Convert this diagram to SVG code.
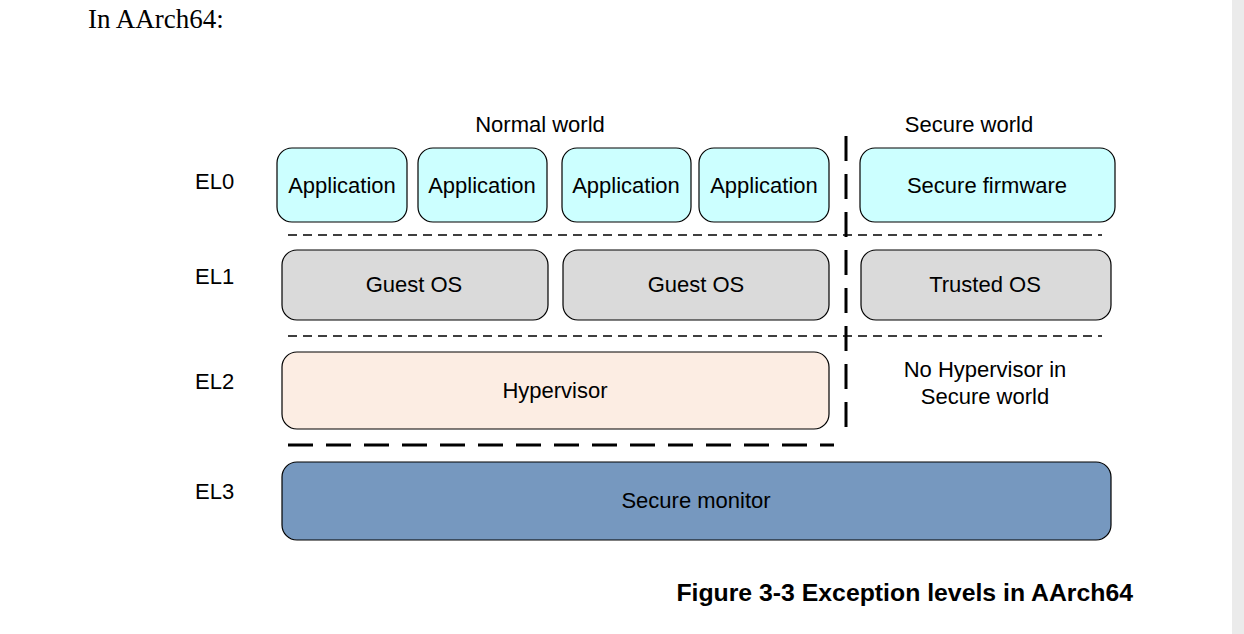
<svg xmlns="http://www.w3.org/2000/svg" width="1244" height="634" viewBox="0 0 1244 634">
<style>
text{font-family:"Liberation Sans",Arial,sans-serif;font-size:22px;fill:#000}
.c{text-anchor:middle}
.box{stroke:#000;stroke-width:1.2}
.app{fill:#ccffff}
.os{fill:#dadada}
.hyp{fill:#fcede3}
.mon{fill:#7698bf}
.thin{stroke:#000;stroke-width:1.3;stroke-dasharray:9 6;fill:none}
.thick{stroke:#000;stroke-width:3;stroke-dasharray:25 13;fill:none}
</style>
<rect width="1244" height="634" fill="#fff"/>
<rect x="1232" y="0" width="12" height="634" fill="#ebebeb"/>
<text x="88" y="28" style="font-family:'Liberation Serif','Times New Roman',serif;font-size:27px">In AArch64:</text>
<text class="c" x="540" y="132">Normal world</text>
<text class="c" x="969" y="132">Secure world</text>
<text x="195" y="189">EL0</text>
<text x="195" y="284">EL1</text>
<text x="195" y="389">EL2</text>
<text x="195" y="499">EL3</text>
<g id="connectors">
<line class="thin" x1="288" y1="235" x2="1102" y2="235"/>
<line class="thin" x1="288" y1="336" x2="1102" y2="336"/>
<line class="thick" x1="288" y1="445" x2="834" y2="445"/>
<line class="thick" x1="846" y1="136" x2="846" y2="438"/>
</g>
<g id="app1"><rect class="box app" x="277" y="148" width="130" height="74" rx="15"/><text class="c" x="342" y="193">Application</text></g>
<g id="app2"><rect class="box app" x="418" y="148" width="129" height="74" rx="15"/><text class="c" x="482" y="193">Application</text></g>
<g id="app3"><rect class="box app" x="562" y="148" width="129" height="74" rx="15"/><text class="c" x="626" y="193">Application</text></g>
<g id="app4"><rect class="box app" x="699" y="148" width="130" height="74" rx="15"/><text class="c" x="764" y="193">Application</text></g>
<g id="secfw"><rect class="box app" x="860" y="148" width="255" height="74" rx="15"/><text class="c" x="987" y="193">Secure firmware</text></g>
<g id="guest1"><rect class="box os" x="282" y="250" width="266" height="70" rx="15"/><text class="c" x="414" y="292">Guest OS</text></g>
<g id="guest2"><rect class="box os" x="563" y="250" width="266" height="70" rx="15"/><text class="c" x="696" y="292">Guest OS</text></g>
<g id="trusted"><rect class="box os" x="861" y="250" width="250" height="70" rx="15"/><text class="c" x="985" y="292">Trusted OS</text></g>
<g id="hyp"><rect class="box hyp" x="282" y="352" width="547" height="77" rx="15"/><text class="c" x="555" y="398">Hypervisor</text></g>
<g id="nohyp"><text class="c" x="985" y="377">No Hypervisor in</text><text class="c" x="985" y="404">Secure world</text></g>
<g id="monitor"><rect class="box mon" x="282" y="462" width="829" height="78" rx="15"/><text class="c" x="696" y="508">Secure monitor</text></g>
<text x="1133" y="601" style="font-weight:bold;font-size:24.8px;text-anchor:end">Figure 3-3 Exception levels in AArch64</text>
</svg>
